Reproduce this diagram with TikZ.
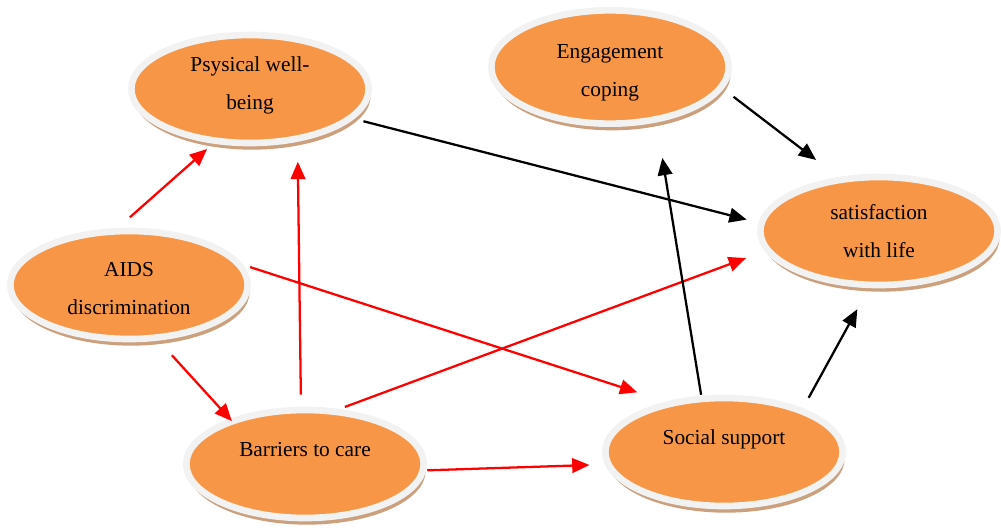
\documentclass[tikz,border=0pt]{standalone}
\usepackage{fontspec}
\setmainfont{Liberation Serif}
\usetikzlibrary{shapes.geometric, arrows.meta, shadows}
\definecolor{bubbleorange}{HTML}{F79646}
\definecolor{bubblering}{HTML}{F2F2F2}
\definecolor{bubbleshadow}{RGB}{205,160,125}
\tikzstyle{bubble} = [ellipse, minimum width=178pt, minimum height=81pt, inner sep=0pt, align=center, draw=bubblering, line width=5pt, fill=bubbleorange, drop shadow={shadow xshift=1.5pt, shadow yshift=-5pt, fill=bubbleshadow, opacity=1}, font=\fontsize{16}{28.5}\selectfont]
\tikzstyle{onerow} = [text depth=22pt]
\tikzstyle{redarrow} = [line width=1.7pt, ->, >={Triangle[length=13pt,width=11pt]}, red]
\tikzstyle{blackarrow} = [line width=1.7pt, ->, >={Triangle[length=13pt,width=11pt]}, black]
\begin{document}
\begin{tikzpicture}[x=0.75pt, y=-0.75pt]
\useasboundingbox (0,0) rectangle (1001,528);

\node (phys) [bubble, text depth=9pt] at (250,89) {Psysical well-\\being};
\node (eng) [bubble, minimum height=85pt, text height=48pt] at (610,67) {Engagement\\coping};
\node (sat) [bubble] at (879,231) {satisfaction\\with life};
\node (aids) [bubble, text height=45pt] at (129,285) {AIDS\\discrimination};
\node (bar) [bubble, onerow] at (305,464) {Barriers to care};
\node (soc) [bubble, onerow] at (724,452) {Social support};

\draw [redarrow, shorten <=12pt, shorten >=6pt] (aids.101) -- (phys.236);
\draw [redarrow, shorten <=5.4pt, shorten >=22.6pt] (aids.10) -- (soc.139);
\draw [redarrow, shorten <=14.8pt, shorten >=-2.3pt] (aids.-62) -- (bar.149);
\draw [redarrow, shorten <=9pt, shorten >=15pt] (bar.94) -- (phys.-48);
\draw [redarrow, shorten <=4.4pt, shorten >=15pt] (bar.58) -- (sat.190);
\draw [redarrow, shorten <=0.75pt, shorten >=11.6pt] (bar.-3) -- (soc.186);
\draw [blackarrow, shorten <=7.2pt, shorten >=9pt] (phys.-16) -- (sat.176);
\draw [blackarrow, shorten <=9.5pt, shorten >=21pt] (eng.-11) -- (sat.127);
\draw [blackarrow, shorten <=0.7pt, shorten >=26.9pt] (soc.112) -- (eng.-50);
\draw [blackarrow, shorten <=9pt, shorten >=18pt] (soc.29) -- (sat.260);

\end{tikzpicture}
\end{document}
